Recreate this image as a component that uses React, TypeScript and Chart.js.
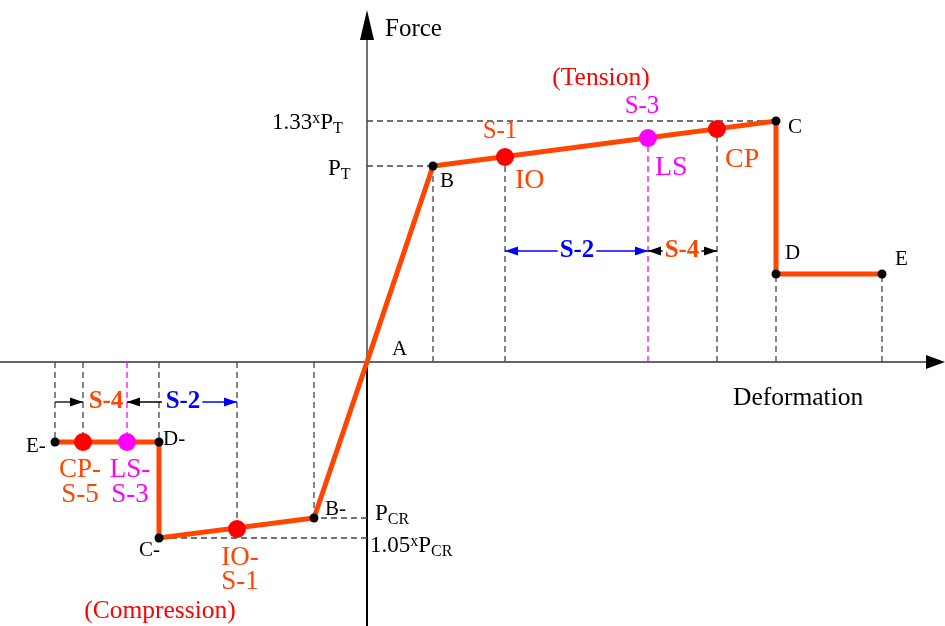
import React, { useEffect, useRef } from "react";
import { Chart, registerables } from "chart.js";

Chart.register(...registerables);

// ---------- DATA (deformation, force) in drawing units, origin at A ----------
// Backbone curve E- -> D- -> C- -> B- -> A -> B -> C -> D -> E
const curveNames = ["E-", "D-", "C-", "B-", "A", "B", "C", "D", "E"];
const curveX = [-312, -208, -208, -53, 0, 66, 409, 409, 515];
const curveY = [-80, -80, -176, -156, 0, 196, 241, 88, 88];

// Performance points
const perfNames = ["IO", "LS", "CP", "IO-", "LS-", "CP-"];
const perfX = [138, 281, 350, -130, -240, -284];
const perfY = [205, 224, 233, -167, -80, -80];
const perfColors = ["#ff0000", "#ff00ff", "#ff0000", "#ff0000", "#ff00ff", "#ff0000"];

// Axis range
const xRange = [-367, 578];
const yRange = [-264, 362];
const yAxisTip = 352;

// Dimension line levels (force value where the S-2 / S-4 spans sit)
const dimTensionY = 111;
const dimCompressionY = -40;

// ---------- STYLE ----------
const FONT = '"Liberation Serif", "Times New Roman", serif';
const ORANGE = "#ff4500";
const RED = "#ff0000";
const MAGENTA = "#ff00ff";
const BLUE = "#0000ff";
const GUIDE = "#444444";

type Part = { t: string; s: number; dy?: number; b?: boolean };
type Label = { parts: Part[]; x: number; y: number; c: string; align?: "left" | "center"; bg?: boolean };

const P = (t: string, s = 21, dy = 0, b = false): Part => ({ t, s, dy, b });

const LABELS: Label[] = [
  { parts: [P("Force", 25)], x: 18, y: 326, c: "#000" },
  { parts: [P("Deformation", 25.5)], x: 366, y: -43, c: "#000" },
  { parts: [P("(Tension)", 25.5)], x: 234, y: 277, c: RED, align: "center" },
  { parts: [P("(Compression)", 25.5)], x: -207, y: -256, c: RED, align: "center" },
  { parts: [P("S-3", 25)], x: 275, y: 249, c: MAGENTA, align: "center" },
  { parts: [P("S-1", 25)], x: 133, y: 224, c: ORANGE, align: "center" },
  { parts: [P("IO", 28)], x: 148, y: 174, c: ORANGE },
  { parts: [P("LS", 28)], x: 288, y: 187, c: MAGENTA },
  { parts: [P("CP", 28)], x: 358, y: 195, c: ORANGE },
  { parts: [P("C")], x: 421, y: 229, c: "#000" },
  { parts: [P("B")], x: 73, y: 175, c: "#000" },
  { parts: [P("D")], x: 418, y: 103, c: "#000" },
  { parts: [P("E")], x: 528, y: 97, c: "#000" },
  { parts: [P("A")], x: 25, y: 7, c: "#000" },
  { parts: [P("B-")], x: -42, y: -153, c: "#000" },
  { parts: [P("C-")], x: -228, y: -194, c: "#000" },
  { parts: [P("D-")], x: -204, y: -83, c: "#000" },
  { parts: [P("E-")], x: -341, y: -90, c: "#000" },
  { parts: [P("CP-", 27)], x: -287, y: -115, c: ORANGE, align: "center" },
  { parts: [P("S-5", 27)], x: -287, y: -140, c: ORANGE, align: "center" },
  { parts: [P("LS-", 27)], x: -237, y: -115, c: MAGENTA, align: "center" },
  { parts: [P("S-3", 27)], x: -237, y: -140, c: MAGENTA, align: "center" },
  { parts: [P("IO-", 27)], x: -127, y: -203, c: ORANGE, align: "center" },
  { parts: [P("S-1", 27)], x: -127, y: -227, c: ORANGE, align: "center" },
  { parts: [P("S-2", 25, 0, true)], x: 210, y: 105, c: BLUE, align: "center", bg: true },
  { parts: [P("S-4", 25, 0, true)], x: 315, y: 105, c: ORANGE, align: "center", bg: true },
  { parts: [P("S-4", 25, 0, true)], x: -261, y: -46, c: ORANGE, align: "center", bg: true },
  { parts: [P("S-2", 25, 0, true)], x: -184, y: -46, c: BLUE, align: "center", bg: true },
  { parts: [P("1.33", 23), P("x", 16, -6), P("P", 23), P("T", 16, 4)], x: -95, y: 233, c: "#000" },
  { parts: [P("P", 23), P("T", 16, 4)], x: -39, y: 187, c: "#000" },
  { parts: [P("P", 23), P("CR", 16, 4)], x: 8, y: -158, c: "#000" },
  { parts: [P("1.05", 23), P("x", 16, -6), P("P", 23), P("CR", 16, 4)], x: 3, y: -190, c: "#000" },
];

function pt(name: string): { x: number; y: number } {
  let i = curveNames.indexOf(name);
  if (i >= 0) return { x: curveX[i], y: curveY[i] };
  i = perfNames.indexOf(name);
  return { x: perfX[i], y: perfY[i] };
}

function drawRich(ctx: CanvasRenderingContext2D, l: Label, px: number, py: number) {
  const widths = l.parts.map((p) => {
    ctx.font = `${p.b ? "bold " : ""}${p.s}px ${FONT}`;
    return ctx.measureText(p.t).width;
  });
  const total = widths.reduce((a, b) => a + b, 0);
  let x = l.align === "center" ? px - total / 2 : px;
  if (l.bg) {
    ctx.fillStyle = "#ffffff";
    ctx.fillRect(x - 2, py - 18, total + 4, 22);
  }
  ctx.textBaseline = "alphabetic";
  ctx.textAlign = "left";
  l.parts.forEach((p, i) => {
    ctx.font = `${p.b ? "bold " : ""}${p.s}px ${FONT}`;
    ctx.fillStyle = l.c;
    ctx.fillText(p.t, x, py + (p.dy || 0));
    x += widths[i];
  });
}

function arrowHead(ctx: CanvasRenderingContext2D, x: number, y: number, dir: number, color: string, len = 13, hw = 4.5) {
  ctx.fillStyle = color;
  ctx.beginPath();
  ctx.moveTo(x, y);
  ctx.lineTo(x - dir * len, y - hw);
  ctx.lineTo(x - dir * len, y + hw);
  ctx.closePath();
  ctx.fill();
}

const decor = {
  id: "decor",
  beforeDatasetsDraw(chart: any) {
    const ctx: CanvasRenderingContext2D = chart.ctx;
    const xs = chart.scales.x;
    const ys = chart.scales.y;
    const ox = xs.getPixelForValue(0);
    const oy = ys.getPixelForValue(0);
    const xl = xs.getPixelForValue(xRange[0]);
    const xr = xs.getPixelForValue(xRange[1]);
    const yb = ys.getPixelForValue(yRange[0]);
    const yt = ys.getPixelForValue(yAxisTip);
    ctx.save();
    // horizontal axis
    ctx.strokeStyle = "#666666";
    ctx.lineWidth = 2;
    ctx.beginPath();
    ctx.moveTo(xl, oy);
    ctx.lineTo(xr - 15, oy);
    ctx.stroke();
    ctx.fillStyle = "#000";
    ctx.beginPath();
    ctx.moveTo(xr, oy);
    ctx.lineTo(xr - 19, oy - 7);
    ctx.lineTo(xr - 19, oy + 7);
    ctx.closePath();
    ctx.fill();
    // vertical axis
    ctx.strokeStyle = "#222222";
    ctx.lineWidth = 1.3;
    ctx.beginPath();
    ctx.moveTo(ox, oy);
    ctx.lineTo(ox, yt + 25);
    ctx.stroke();
    ctx.strokeStyle = "#000";
    ctx.lineWidth = 2;
    ctx.beginPath();
    ctx.moveTo(ox, yb);
    ctx.lineTo(ox, oy);
    ctx.stroke();
    ctx.beginPath();
    ctx.moveTo(ox, yt);
    ctx.lineTo(ox - 7, yt + 30);
    ctx.lineTo(ox + 7, yt + 30);
    ctx.closePath();
    ctx.fill();
    ctx.restore();
  },
  afterDatasetsDraw(chart: any) {
    const ctx: CanvasRenderingContext2D = chart.ctx;
    const xs = chart.scales.x;
    const ys = chart.scales.y;
    const X = (v: number) => xs.getPixelForValue(v);
    const Y = (v: number) => ys.getPixelForValue(v);
    ctx.save();
    ctx.lineWidth = 1.3;
    const seg = (a: number, b: number, y: number, color: string) => {
      ctx.strokeStyle = color;
      ctx.beginPath();
      ctx.moveTo(X(a), Y(y));
      ctx.lineTo(X(b), Y(y));
      ctx.stroke();
      arrowHead(ctx, X(b), Y(y), Math.sign(b - a), color);
    };
    // tension dims: S-2 (IO..LS), S-4 (LS..CP)
    const io = pt("IO").x, ls = pt("LS").x, cp = pt("CP").x;
    const m1 = (io + ls) / 2, m2 = (ls + cp) / 2;
    seg(m1, io, dimTensionY, BLUE);
    seg(m1, ls, dimTensionY, BLUE);
    seg(m2, ls, dimTensionY, "#000");
    seg(m2, cp, dimTensionY, "#000");
    // compression dims
    const eN = pt("E-").x, cpN = pt("CP-").x, lsN = pt("LS-").x, ioN = pt("IO-").x;
    seg(eN, cpN, dimCompressionY, "#000");
    seg(lsN + 35, lsN, dimCompressionY, "#000");
    seg((lsN + ioN) / 2, ioN, dimCompressionY, BLUE);
    LABELS.forEach((l) => drawRich(ctx, l, X(l.x), Y(l.y)));
    ctx.restore();
  },
};

export default function App() {
  const ref = useRef<HTMLCanvasElement | null>(null);
  useEffect(() => {
    if (!ref.current) return;
    const guides: any[] = [];
    const guideLine = (pts: { x: number; y: number }[], color: string) =>
      guides.push({
        data: pts,
        showLine: true,
        borderColor: color,
        borderWidth: 1.3,
        borderDash: [6, 4],
        pointRadius: 0,
        order: 3,
      });
    // vertical guides from axis to points
    ["B", "D", "E", "B-", "D-", "E-", "IO", "CP", "IO-", "CP-"].forEach((n) => {
      const p = pt(n);
      guideLine([{ x: p.x, y: 0 }, p], GUIDE);
    });
    ["LS", "LS-"].forEach((n) => {
      const p = pt(n);
      guideLine([{ x: p.x, y: 0 }, p], MAGENTA);
    });
    // horizontal guides from axis to points
    ["B", "C", "B-", "C-"].forEach((n) => {
      const p = pt(n);
      guideLine([{ x: 0, y: p.y }, p], GUIDE);
    });

    const keyPts = curveX
      .map((x, i) => ({ x, y: curveY[i], n: curveNames[i] }))
      .filter((p) => p.n !== "A");

    const chart = new Chart(ref.current, {
      type: "scatter",
      data: {
        datasets: [
          {
            data: curveX.map((x, i) => ({ x, y: curveY[i] })),
            showLine: true,
            borderColor: ORANGE,
            borderWidth: 5,
            borderJoinStyle: "miter",
            pointRadius: 0,
            order: 2,
          } as any,
          {
            data: keyPts.map((p) => ({ x: p.x, y: p.y })),
            pointRadius: 4.5,
            pointBackgroundColor: "#000",
            pointBorderWidth: 0,
            order: 1,
          },
          {
            data: perfX.map((x, i) => ({ x, y: perfY[i] })),
            pointRadius: 9,
            pointBackgroundColor: perfColors,
            pointBorderWidth: 0,
            order: 0,
          },
          ...guides,
        ],
      },
      options: {
        animation: false,
        responsive: false,
        devicePixelRatio: 1,
        events: [],
        layout: { padding: 0, autoPadding: false } as any,
        clip: false as any,
        plugins: { legend: { display: false }, tooltip: { enabled: false } },
        scales: {
          x: { type: "linear", min: xRange[0], max: xRange[1], display: false },
          y: { type: "linear", min: yRange[0], max: yRange[1], display: false },
        },
      },
      plugins: [decor],
    });
    return () => chart.destroy();
  }, []);
  return (
    <div style={{ position: "absolute", left: 0, top: 0, width: 945, height: 626, background: "#fff" }}>
      <canvas ref={ref} width={945} height={626} style={{ display: "block" }} />
    </div>
  );
}
